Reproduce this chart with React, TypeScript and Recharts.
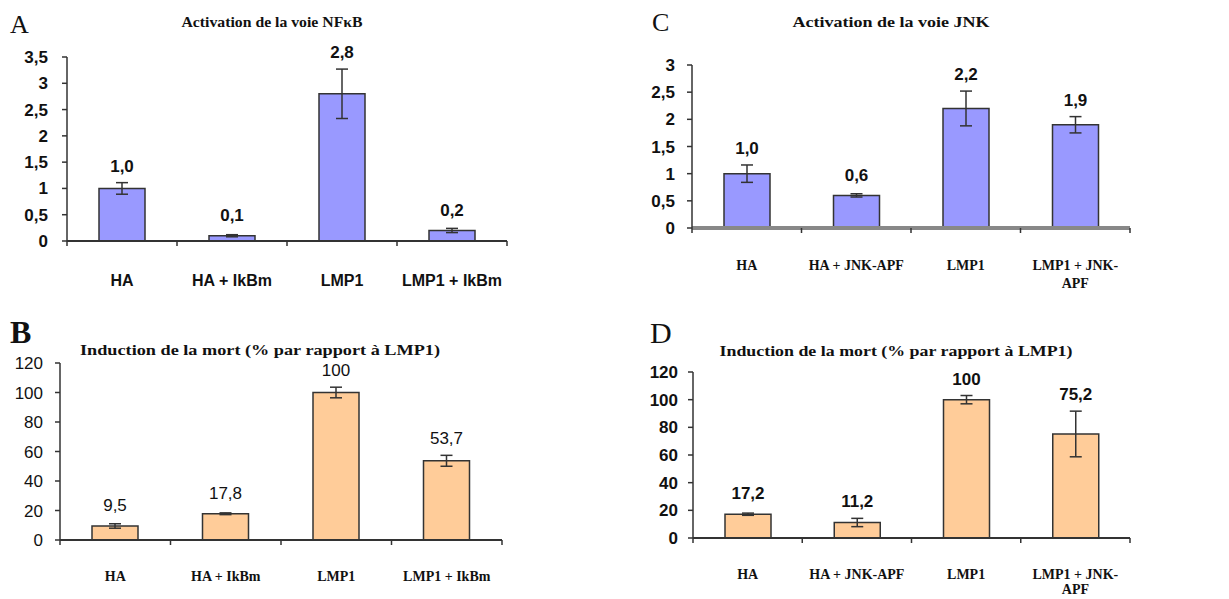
import React from 'react';
import { BarChart, Bar, XAxis, YAxis, ErrorBar, LabelList } from 'recharts';

// ---------- DATA ----------
const catsA = ['HA', 'HA + IkBm', 'LMP1', 'LMP1 + IkBm'];
const valsA = [1.0, 0.1, 2.8, 0.2];
const errsA = [0.11, 0.02, 0.47, 0.04];
const labelsA = ['1,0', '0,1', '2,8', '0,2'];
const ticksA = [0, 0.5, 1, 1.5, 2, 2.5, 3, 3.5];

const catsB = ['HA', 'HA + IkBm', 'LMP1', 'LMP1 + IkBm'];
const valsB = [9.5, 17.8, 100, 53.7];
const errsB = [1.5, 0.6, 3.6, 3.7];
const labelsB = ['9,5', '17,8', '100', '53,7'];
const ticksB = [0, 20, 40, 60, 80, 100, 120];

const catsC = ['HA', 'HA + JNK-APF', 'LMP1', 'LMP1 + JNK-APF'];
const valsC = [1.0, 0.6, 2.2, 1.9];
const errsC = [0.16, 0.03, 0.32, 0.15];
const labelsC = ['1,0', '0,6', '2,2', '1,9'];
const ticksC = [0, 0.5, 1, 1.5, 2, 2.5, 3];

const catsD = ['HA', 'HA + JNK-APF', 'LMP1', 'LMP1 + JNK-APF'];
const valsD = [17.2, 11.2, 100, 75.2];
const errsD = [0.8, 3, 3, 16.5];
const labelsD = ['17,2', '11,2', '100', '75,2'];
const ticksD = [0, 20, 40, 60, 80, 100, 120];

const titleA = 'Activation de la voie NFκB';
const titleC = 'Activation de la voie JNK';
const titleB = 'Induction de la mort (% par rapport à LMP1)';
const titleD = 'Induction de la mort (% par rapport à LMP1)';

// ---------- STYLE ----------
const SANS = '"Liberation Sans", Arial, sans-serif';
const SERIF = '"Liberation Serif", "Times New Roman", serif';

type Font = { family: string; size: number; weight: string | number };

type PanelCfg = {
  left: number;
  top: number;
  width: number;
  height: number;
  plotLeft: number;
  plotRight: number;
  plotTop: number;
  plotBottom: number;
  fill: string;
  xAxisStroke: string;
  xAxisWidth: number;
  yFont: Font;
  valFont: Font;
  catFont: Font;
  catMargin: number;
  catLineGap: number;
  yTickMargin: number;
};

const wrapLabel = (s: string): string[] => {
  const i = s.lastIndexOf('-');
  if (s.length > 13 && i > 0) return [s.slice(0, i + 1), s.slice(i + 1)];
  return [s];
};

type PanelProps = {
  cats: string[];
  vals: number[];
  errs: number[];
  labels: string[];
  ticks: number[];
  cfg: PanelCfg;
};

const Panel = ({ cats, vals, errs, labels, ticks, cfg }: PanelProps) => {
  const data = cats.map((name, i) => ({ name, v: vals[i], err: errs[i] }));
  const n = cats.length;

  const renderCatTick = (p: any) => {
    const { x, y, payload, index, width } = p;
    const axisY = y - cfg.catMargin;
    const bw = width / n;
    const lines = wrapLabel(String(payload.value));
    return (
      <g>
        <line x1={x - bw / 2} y1={axisY} x2={x - bw / 2} y2={axisY + 5} stroke="#333" strokeWidth={1.5} />
        {index === n - 1 && (
          <line x1={x + bw / 2} y1={axisY} x2={x + bw / 2} y2={axisY + 5} stroke="#333" strokeWidth={1.5} />
        )}
        <text
          x={x}
          y={y}
          textAnchor="middle"
          fontFamily={cfg.catFont.family}
          fontSize={cfg.catFont.size}
          fontWeight={cfg.catFont.weight}
          fill="#111"
        >
          {lines.map((l, k) => (
            <tspan key={k} x={x} dy={k === 0 ? 0 : cfg.catLineGap}>
              {l}
            </tspan>
          ))}
        </text>
      </g>
    );
  };

  const renderValLabel = (p: any) => {
    const vb = p.viewBox && p.viewBox.width != null ? p.viewBox : p;
    const idx = p.index;
    const v = vals[idx];
    const pxPerUnit = v ? vb.height / v : 0;
    const errPx = errs[idx] * pxPerUnit;
    const center = Math.min(vb.y - 21, vb.y - errPx - 17);
    return (
      <text
        x={vb.x + vb.width / 2}
        y={center + cfg.valFont.size * 0.36}
        textAnchor="middle"
        fontFamily={cfg.valFont.family}
        fontSize={cfg.valFont.size}
        fontWeight={cfg.valFont.weight}
        fill="#111"
      >
        {labels[idx]}
      </text>
    );
  };

  return (
    <div style={{ position: 'absolute', left: cfg.left, top: cfg.top, width: cfg.width, height: cfg.height }}>
      <BarChart
        width={cfg.width}
        height={cfg.height}
        data={data}
        margin={{ top: cfg.plotTop, right: cfg.width - cfg.plotRight, bottom: 0, left: 0 }}
      >
        <XAxis
          dataKey="name"
          type="category"
          interval={0}
          height={cfg.height - cfg.plotBottom}
          tickLine={false}
          tickSize={0}
          tickMargin={cfg.catMargin}
          axisLine={{ stroke: cfg.xAxisStroke, strokeWidth: cfg.xAxisWidth }}
          tick={renderCatTick}
        />
        <YAxis
          type="number"
          width={cfg.plotLeft}
          domain={[0, ticks[ticks.length - 1]]}
          ticks={ticks}
          interval={0}
          tickSize={5}
          tickMargin={cfg.yTickMargin}
          tickFormatter={(t: number) => String(t).replace('.', ',')}
          axisLine={{ stroke: '#333', strokeWidth: 1.5 }}
          tickLine={{ stroke: '#333', strokeWidth: 1.5 }}
          tick={{
            fontFamily: cfg.yFont.family,
            fontSize: cfg.yFont.size,
            fontWeight: cfg.yFont.weight,
            fill: '#111',
          }}
        />
        <Bar dataKey="v" fill={cfg.fill} stroke="#333" strokeWidth={1.5} barSize={46} isAnimationActive={false}>
          <ErrorBar dataKey="err" direction="y" width={6} stroke="#333" strokeWidth={1.5} />
          <LabelList dataKey="v" content={renderValLabel} />
        </Bar>
      </BarChart>
    </div>
  );
};

const cfgA: PanelCfg = {
  left: 0, top: 0, width: 610, height: 300,
  plotLeft: 67, plotRight: 507, plotTop: 57, plotBottom: 241,
  fill: '#9999ff', xAxisStroke: '#333', xAxisWidth: 2,
  yFont: { family: SANS, size: 17, weight: 'bold' },
  valFont: { family: SANS, size: 17, weight: 'bold' },
  catFont: { family: SANS, size: 16, weight: 'bold' },
  catMargin: 45, catLineGap: 18, yTickMargin: 14,
};

const cfgC: PanelCfg = {
  left: 610, top: 0, width: 619, height: 300,
  plotLeft: 82, plotRight: 520, plotTop: 65, plotBottom: 228,
  fill: '#9999ff', xAxisStroke: '#888', xAxisWidth: 4,
  yFont: { family: SANS, size: 17, weight: 'bold' },
  valFont: { family: SANS, size: 17, weight: 'bold' },
  catFont: { family: SERIF, size: 14, weight: 'bold' },
  catMargin: 42, catLineGap: 18, yTickMargin: 12,
};

const cfgB: PanelCfg = {
  left: 0, top: 300, width: 610, height: 299,
  plotLeft: 60, plotRight: 502, plotTop: 63, plotBottom: 240,
  fill: '#ffcc99', xAxisStroke: '#333', xAxisWidth: 2,
  yFont: { family: SANS, size: 17, weight: 'normal' },
  valFont: { family: SANS, size: 17, weight: 'normal' },
  catFont: { family: SERIF, size: 14, weight: 'bold' },
  catMargin: 41, catLineGap: 17, yTickMargin: 12,
};

const cfgD: PanelCfg = {
  left: 610, top: 300, width: 619, height: 299,
  plotLeft: 83, plotRight: 520, plotTop: 72, plotBottom: 238,
  fill: '#ffcc99', xAxisStroke: '#333', xAxisWidth: 2,
  yFont: { family: SANS, size: 17, weight: 'bold' },
  valFont: { family: SANS, size: 17, weight: 'bold' },
  catFont: { family: SERIF, size: 14, weight: 'bold' },
  catMargin: 41, catLineGap: 15, yTickMargin: 10,
};

export default function App() {
  return (
    <div style={{ position: 'absolute', left: 0, top: 0, width: 1229, height: 599, background: '#fff', overflow: 'hidden' }}>
      <Panel cats={catsA} vals={valsA} errs={errsA} labels={labelsA} ticks={ticksA} cfg={cfgA} />
      <Panel cats={catsC} vals={valsC} errs={errsC} labels={labelsC} ticks={ticksC} cfg={cfgC} />
      <Panel cats={catsB} vals={valsB} errs={errsB} labels={labelsB} ticks={ticksB} cfg={cfgB} />
      <Panel cats={catsD} vals={valsD} errs={errsD} labels={labelsD} ticks={ticksD} cfg={cfgD} />
      <svg
        width={1229}
        height={599}
        style={{ position: 'absolute', left: 0, top: 0, pointerEvents: 'none' }}
      >
        <g fontFamily={SERIF} fill="#111">
          <text x={10} y={33} fontSize={26}>A</text>
          <text x={652} y={31} fontSize={26}>C</text>
          <text x={10} y={343} fontSize={32} fontWeight="bold">B</text>
          <text x={650} y={343} fontSize={30}>D</text>
          <text x={272} y={27} fontSize={14} fontWeight="bold" textAnchor="middle" textLength={181} lengthAdjust="spacingAndGlyphs">{titleA}</text>
          <text x={891} y={27} fontSize={14} fontWeight="bold" textAnchor="middle" textLength={197} lengthAdjust="spacingAndGlyphs">{titleC}</text>
          <text x={260} y={355} fontSize={14} fontWeight="bold" textAnchor="middle" textLength={360} lengthAdjust="spacingAndGlyphs">{titleB}</text>
          <text x={896} y={356} fontSize={14} fontWeight="bold" textAnchor="middle" textLength={353} lengthAdjust="spacingAndGlyphs">{titleD}</text>
        </g>
      </svg>
    </div>
  );
}
